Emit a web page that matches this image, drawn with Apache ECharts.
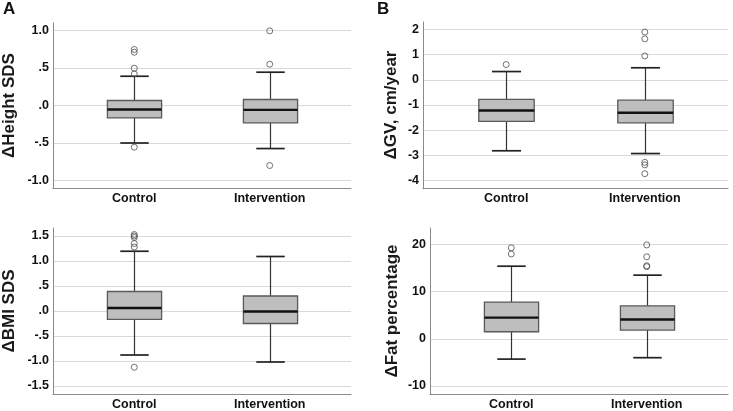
<!DOCTYPE html>
<html>
<head>
<meta charset="utf-8">
<script src="https://cdn.jsdelivr.net/npm/echarts@6/dist/echarts.min.js"></script>
<style>html,body{margin:0;padding:0;background:#fff}#c{width:733px;height:411px}</style>
</head>
<body>
<div id="c"></div>
<script>
// ---- data ----
const categories = ['Control', 'Intervention'];
// box stats: [lowerWhisker, Q1, median, Q3, upperWhisker]
const heightControl = [-0.50, -0.165, -0.053, 0.067, 0.39];
const heightIntervention = [-0.574, -0.232, -0.058, 0.08, 0.444];
const heightControlOutliers = [0.747, 0.71, 0.497, 0.42, -0.556];
const heightInterventionOutliers = [0.995, 0.55, -0.80];

const gvControl = [-2.82, -1.65, -1.22, -0.78, 0.33];
const gvIntervention = [-2.93, -1.71, -1.31, -0.81, 0.48];
const gvControlOutliers = [0.61];
const gvInterventionOutliers = [1.90, 1.63, 0.95, -3.28, -3.38, -3.73];

const bmiControl = [-0.88, -0.166, 0.06, 0.39, 1.195];
const bmiIntervention = [-1.02, -0.25, -0.01, 0.30, 1.09];
const bmiControlOutliers = [1.53, 1.50, 1.47, 1.35, 1.28, -1.125];
const bmiInterventionOutliers = [];

const fatControl = [-4.3, 1.5, 4.5, 7.8, 15.4];
const fatIntervention = [-4.0, 1.85, 4.1, 7.0, 13.5];
const fatControlOutliers = [19.3, 18.0];
const fatInterventionOutliers = [19.9, 17.4, 15.5, 15.3];

// tick labels
const sdsTickValues = [-1.5, -1, -0.5, 0, 0.5, 1, 1.5];
const sdsTickLabels = ['-1.5', '-1.0', '-.5', '.0', '.5', '1.0', '1.5'];
const gvTickValues = [-4, -3, -2, -1, 0, 1, 2];
const gvTickLabels = ['-4', '-3', '-2', '-1', '0', '1', '2'];
const fatTickValues = [-10, 0, 10, 20];
const fatTickLabels = ['-10', '0', '10', '20'];

const yTitles = ['\u0394Height SDS', '\u0394GV, cm/year', '\u0394BMI SDS', '\u0394Fat percentage'];
const panelLetters = ['A', 'B'];

// ---- chart ----
const FONT = '"Liberation Sans", Arial, sans-serif';

function labelFor(values, labels) {
  return function (v) {
    for (let i = 0; i < values.length; i++) {
      if (Math.abs(values[i] - v) < 1e-6) return labels[i];
    }
    return '';
  };
}

function renderBox(params, api) {
  const x = api.value(0);
  const lo = api.coord([x, api.value(1)]);
  const q1 = api.coord([x, api.value(2)]);
  const med = api.coord([x, api.value(3)]);
  const q3 = api.coord([x, api.value(4)]);
  const hi = api.coord([x, api.value(5)]);
  const unit = api.size([1, 0])[0];
  const bw = unit * 0.4, cw = unit * 0.21;
  const cx = Math.round(lo[0]) + 0.5;
  const wStyle = { stroke: '#333', lineWidth: 1.2 };
  const cStyle = { stroke: '#222', lineWidth: 1.7 };
  return {
    type: 'group',
    children: [
      { type: 'line', shape: { x1: cx, y1: hi[1], x2: cx, y2: q3[1] }, style: wStyle },
      { type: 'line', shape: { x1: cx, y1: q1[1], x2: cx, y2: lo[1] }, style: wStyle },
      { type: 'line', shape: { x1: cx - cw / 2, y1: hi[1], x2: cx + cw / 2, y2: hi[1] }, style: cStyle },
      { type: 'line', shape: { x1: cx - cw / 2, y1: lo[1], x2: cx + cw / 2, y2: lo[1] }, style: cStyle },
      { type: 'rect', shape: { x: cx - bw / 2, y: q3[1], width: bw, height: q1[1] - q3[1] },
        style: { fill: '#bebebe', stroke: '#5a5a5a', lineWidth: 1.3 } },
      { type: 'line', shape: { x1: cx - bw / 2, y1: med[1], x2: cx + bw / 2, y2: med[1] },
        style: { stroke: '#111', lineWidth: 2.4 } }
    ]
  };
}

const panels = [
  { box: [heightControl, heightIntervention], out: [heightControlOutliers, heightInterventionOutliers],
    grid: { left: 53, top: 23, width: 298, height: 165 }, min: -1.1, max: 1.1, interval: 0.5,
    ticks: [sdsTickValues, sdsTickLabels], nameGap: 35 },
  { box: [gvControl, gvIntervention], out: [gvControlOutliers, gvInterventionOutliers],
    grid: { left: 423, top: 22, width: 305, height: 166 }, min: -4.3, max: 2.3, interval: 1,
    ticks: [gvTickValues, gvTickLabels], nameGap: 23 },
  { box: [bmiControl, bmiIntervention], out: [bmiControlOutliers, bmiInterventionOutliers],
    grid: { left: 53, top: 228, width: 298, height: 167 }, min: -1.66, max: 1.66, interval: 0.5,
    ticks: [sdsTickValues, sdsTickLabels], nameGap: 35 },
  { box: [fatControl, fatIntervention], out: [fatControlOutliers, fatInterventionOutliers],
    grid: { left: 430, top: 228, width: 298, height: 167 }, min: -11.7, max: 23.5, interval: 10,
    ticks: [fatTickValues, fatTickLabels], nameGap: 29 }
];

const option = {
  animation: false,
  backgroundColor: '#fff',
  textStyle: { fontFamily: FONT },
  title: panelLetters.map((t, i) => ({
    text: t, left: i === 0 ? 3 : 377, top: 1, padding: 0,
    textStyle: { fontFamily: FONT, fontWeight: 'bold', fontSize: 17, color: '#111' }
  })),
  grid: [], xAxis: [], yAxis: [], series: []
};

panels.forEach((p, i) => {
  option.grid.push(Object.assign({ containLabel: false }, p.grid));
  option.xAxis.push({
    type: 'value', gridIndex: i, min: -0.6, max: 1.6,
    axisLine: { show: true, onZero: false, lineStyle: { color: '#8a8a8a', width: 1 } },
    axisTick: { show: false },
    splitLine: { show: false },
    axisLabel: {
      customValues: [0, 1], margin: 4,
      formatter: v => categories[Math.round(v)] || '',
      fontFamily: FONT, fontWeight: 'bold', fontSize: 12.5, color: '#111'
    }
  });
  option.yAxis.push({
    type: 'value', gridIndex: i, min: p.min, max: p.max,
    minInterval: p.interval, maxInterval: p.interval,
    name: yTitles[i], nameLocation: 'middle', nameGap: p.nameGap,
    nameTextStyle: { fontFamily: FONT, fontWeight: 'bold', fontSize: 17, color: '#1a1a1a' },
    axisLine: { show: true, onZero: false, lineStyle: { color: '#8a8a8a', width: 1 } },
    axisTick: { show: false },
    splitLine: { show: true, showMinLine: false, showMaxLine: false, lineStyle: { color: '#d9d9d9', width: 1 } },
    axisLabel: {
      margin: 4, showMinLabel: false, showMaxLabel: false,
      formatter: labelFor(p.ticks[0], p.ticks[1]),
      fontFamily: FONT, fontWeight: 'bold', fontSize: 12.5, color: '#111'
    }
  });
  option.series.push({
    type: 'custom', xAxisIndex: i, yAxisIndex: i,
    renderItem: renderBox,
    encode: { x: 0, y: [1, 2, 3, 4, 5] },
    data: p.box.map((b, k) => [k].concat(b)),
    z: 3
  });
  const pts = [];
  p.out.forEach((arr, k) => arr.forEach(v => pts.push([k, v])));
  option.series.push({
    type: 'scatter', xAxisIndex: i, yAxisIndex: i,
    symbol: 'circle', symbolSize: 6,
    itemStyle: { color: 'rgba(255,255,255,0)', borderColor: '#505050', borderWidth: 1 },
    data: pts, z: 4
  });
});

const chart = echarts.init(document.getElementById('c'), null, { renderer: 'canvas' });
chart.setOption(option);
</script>
</body>
</html>
